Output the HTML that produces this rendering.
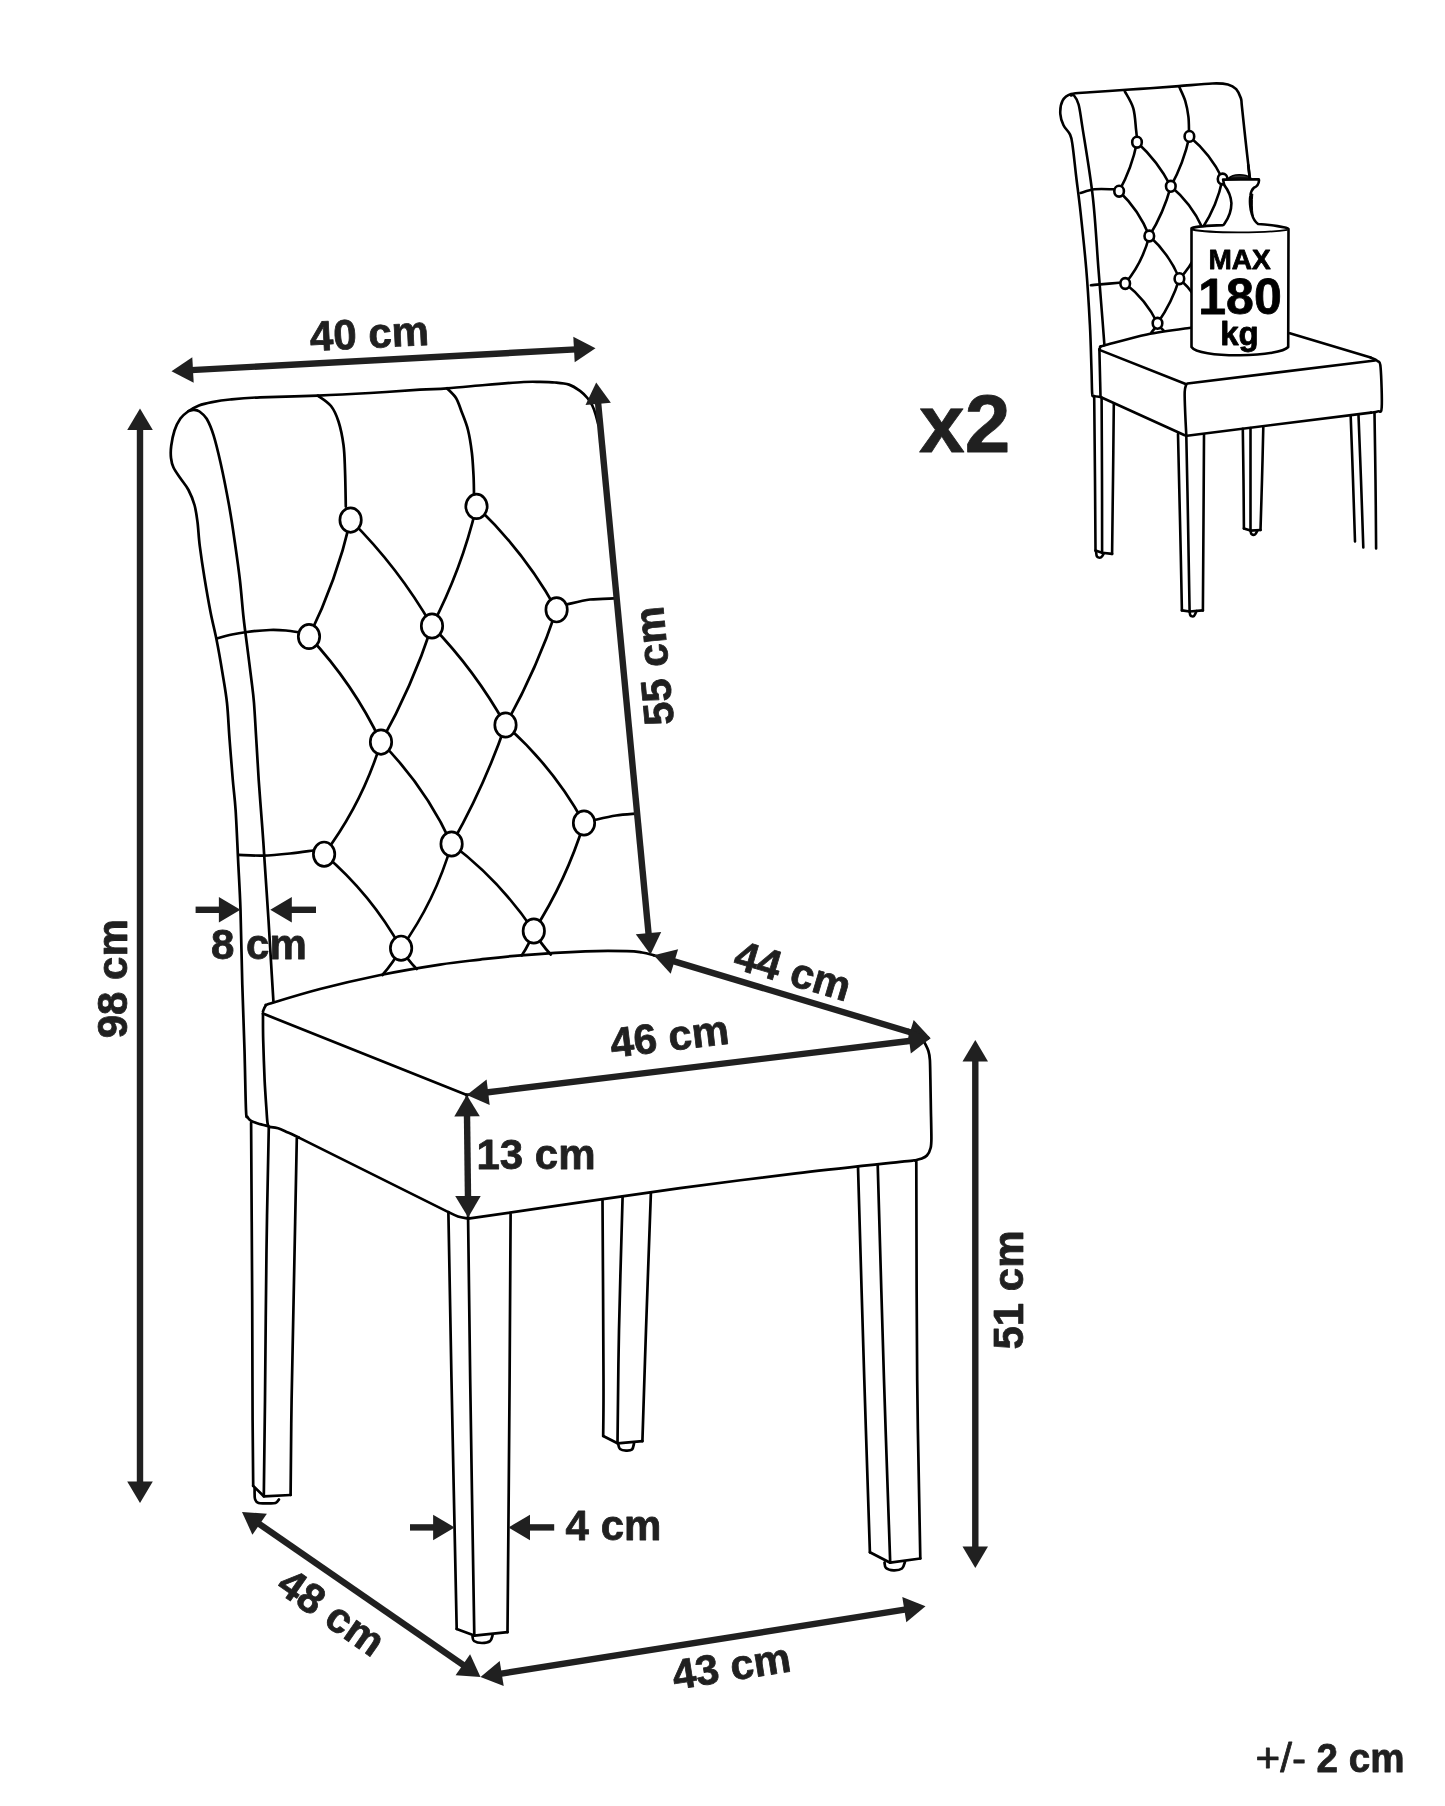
<!DOCTYPE html>
<html><head><meta charset="utf-8"><style>
html,body{margin:0;padding:0;background:#fff;}
svg{display:block;filter:grayscale(1);}
text{font-family:"Liberation Sans",sans-serif;}
</style></head><body>
<svg width="1445" height="1806" viewBox="0 0 1445 1806">
<rect width="1445" height="1806" fill="#fff"/>
<path d="M598.5,425 C598,423.2 596.5,417.2 595.5,414 C594.5,410.8 593.6,408.2 592.3,405.5 C590.9,402.8 589.4,400.4 587.4,398 C585.4,395.6 583.1,393 580,390.8 C576.9,388.6 573.2,386 569,384.6 C564.8,383.2 559.8,382.9 555,382.5 C550.2,382.1 545.2,382 540,381.9 C534.8,381.8 533,381.5 523.8,382 C514.6,382.5 497.8,383.9 485,385 C472.2,386.1 457.8,387.5 447,388.3 C436.2,389.1 432.8,388.9 420,389.7 C407.2,390.5 387,392 370,393 C353,394 336.1,394.9 317.8,395.6 C299.5,396.3 274.6,396.7 260,397.3 C245.4,397.9 238,398.7 230,399.5 C222,400.3 217.4,401.1 212.2,402.1 C207,403.1 203,403.9 199,405.5 C195,407.1 191.1,409.3 188,411.5 C184.9,413.7 182.7,415.3 180.4,418.5 C178.2,421.7 176,425.9 174.5,430.5 C173,435.1 171.8,441.4 171.2,446 C170.6,450.6 170.6,454.4 171,458 C171.4,461.6 171.9,464.1 173.5,467.5 C175.1,470.9 177.9,474.6 180.4,478.3 C182.9,482.1 186.2,485.6 188.5,490 C190.8,494.4 193,499.7 194.5,505 C196,510.3 196.6,515.1 197.5,522 C198.4,528.9 198.6,536.8 199.8,546.1 C201,555.4 202.7,567 204.5,578 C206.3,589 208.5,601.7 210.5,612 C212.5,622.3 214.6,630 216.6,640 C218.6,650 220.6,661.5 222.3,672 C224,682.5 225.8,691.7 227,703 C228.2,714.3 228.6,727.2 229.6,740 C230.6,752.8 231.8,768.3 232.8,780 C233.8,791.7 234.7,796.7 235.6,810 C236.5,823.3 237.3,843.3 238.1,860 C238.9,876.7 239.8,889.2 240.5,910 C241.2,930.8 241.6,961.3 242.3,984.6 C243,1007.9 243.9,1029.1 244.5,1050 C245.1,1070.9 245.5,1098.8 246,1110 C246.5,1121.2 246.7,1115.2 247.5,1117 C248.3,1118.8 249.3,1119.7 251.1,1120.8 C252.8,1121.9 255.2,1122.6 258,1123.5 C260.8,1124.4 266.1,1125.6 267.7,1126" fill="none" stroke="#000" stroke-width="2.7" stroke-linecap="round" stroke-linejoin="round"/>
<path d="M188.5,411 C189.4,410.8 192.2,409.7 194,409.8 C195.8,409.9 197.4,410 199.5,411.5 C201.6,413 204.3,414.8 206.7,418.8 C209,422.8 211.3,428 213.6,435.4 C215.9,442.8 218,451.5 220.6,463 C223.2,474.5 226.6,491.9 228.9,504.6 C231.2,517.3 232.6,526.6 234.4,539.2 C236.2,551.8 238.4,566.9 239.9,580 C241.4,593.1 242.4,607.2 243.6,618 C244.8,628.8 245.7,634.8 247,645 C248.3,655.2 250.1,669.3 251.3,679 C252.5,688.7 253.2,692.8 254,703 C254.8,713.2 255.5,727.2 256.3,740 C257.1,752.8 257.7,765.4 258.7,780 C259.7,794.6 261.3,814.3 262.3,827.6 C263.3,840.9 263.5,844.6 264.5,860 C265.5,875.4 267.4,902.5 268.5,920 C269.6,937.5 270.4,951.5 271.2,965 C272,978.5 273,995.2 273.4,1001.2" fill="none" stroke="#000" stroke-width="2.7" stroke-linecap="round" stroke-linejoin="round"/>
<path d="M317.8,395.6 C320,397.3 327.6,401.7 331,406 C334.4,410.3 336.4,415 338.5,421.5 C340.6,428 342.4,436.9 343.5,445 C344.6,453.1 344.6,459.7 345,470 C345.4,480.3 345.7,500.5 345.8,506.6" fill="none" stroke="#000" stroke-width="2.7" stroke-linecap="round" stroke-linejoin="round"/>
<path d="M447,388.3 C448.5,389.9 453.6,394.1 456,398 C458.4,401.9 459.5,406.2 461.5,411.5 C463.5,416.8 466.3,423.1 468,430 C469.7,436.9 471,445.5 471.9,453 C472.8,460.5 473.1,468.2 473.5,475 C473.9,481.8 473.9,490.8 474,494" fill="none" stroke="#000" stroke-width="2.7" stroke-linecap="round" stroke-linejoin="round"/>
<path d="M350.6,520.1 Q336.4,580.7 309,636.5" fill="none" stroke="#000" stroke-width="2.7" stroke-linecap="round"/>
<path d="M350.6,520.1 Q398.4,567.6 432,626" fill="none" stroke="#000" stroke-width="2.7" stroke-linecap="round"/>
<path d="M476.5,506.4 Q461.7,569 432,626" fill="none" stroke="#000" stroke-width="2.7" stroke-linecap="round"/>
<path d="M476.5,506.4 Q524.5,552 556.6,609.8" fill="none" stroke="#000" stroke-width="2.7" stroke-linecap="round"/>
<path d="M309,636.5 Q353.3,683.7 381,742.1" fill="none" stroke="#000" stroke-width="2.7" stroke-linecap="round"/>
<path d="M432,626 Q412,686.5 381,742.1" fill="none" stroke="#000" stroke-width="2.7" stroke-linecap="round"/>
<path d="M432,626 Q475.2,670.7 505.5,725" fill="none" stroke="#000" stroke-width="2.7" stroke-linecap="round"/>
<path d="M556.6,609.8 Q536.5,669.8 505.5,725" fill="none" stroke="#000" stroke-width="2.7" stroke-linecap="round"/>
<path d="M381,742.1 Q362.4,803.1 324.1,854.2" fill="none" stroke="#000" stroke-width="2.7" stroke-linecap="round"/>
<path d="M381,742.1 Q425.3,786.8 451.6,844" fill="none" stroke="#000" stroke-width="2.7" stroke-linecap="round"/>
<path d="M505.5,725 Q484,787 451.6,844" fill="none" stroke="#000" stroke-width="2.7" stroke-linecap="round"/>
<path d="M505.5,725 Q553.3,767.1 584,823" fill="none" stroke="#000" stroke-width="2.7" stroke-linecap="round"/>
<path d="M324.1,854.2 Q371.1,894.2 401.1,948.2" fill="none" stroke="#000" stroke-width="2.7" stroke-linecap="round"/>
<path d="M451.6,844 Q435.3,900.5 401.1,948.2" fill="none" stroke="#000" stroke-width="2.7" stroke-linecap="round"/>
<path d="M451.6,844 Q500,880.6 533.8,931" fill="none" stroke="#000" stroke-width="2.7" stroke-linecap="round"/>
<path d="M584,823 Q566.2,880.4 533.8,931" fill="none" stroke="#000" stroke-width="2.7" stroke-linecap="round"/>
<path d="M401.1,948.2 Q393.4,962.7 382.4,975" fill="none" stroke="#000" stroke-width="2.7" stroke-linecap="round"/>
<path d="M401.1,948.2 Q407.3,959.8 416.7,969" fill="none" stroke="#000" stroke-width="2.7" stroke-linecap="round"/>
<path d="M533.8,931 Q529.5,944.1 521.7,955.5" fill="none" stroke="#000" stroke-width="2.7" stroke-linecap="round"/>
<path d="M533.8,931 Q540.7,943.9 550.8,954.5" fill="none" stroke="#000" stroke-width="2.7" stroke-linecap="round"/>
<path d="M217,638.5 C219.5,637.8 227,635.6 232,634.5 C237,633.4 240.7,632.8 247,632 C253.3,631.2 263.5,630.2 270,630 C276.5,629.8 281,630.1 286,630.5 C291,630.9 297.7,632.2 300,632.5" fill="none" stroke="#000" stroke-width="2.7" stroke-linecap="round" stroke-linejoin="round"/>
<path d="M238.4,854.8 C242.4,854.9 253.7,855.8 262.3,855.6 C270.9,855.4 281.5,854.4 290,853.5 C298.5,852.6 309.2,851 313.1,850.5" fill="none" stroke="#000" stroke-width="2.7" stroke-linecap="round" stroke-linejoin="round"/>
<path d="M566,604.6 C570,603.8 582,600.5 590,599.5 C598,598.5 610.1,598.6 614.1,598.4" fill="none" stroke="#000" stroke-width="2.7" stroke-linecap="round" stroke-linejoin="round"/>
<path d="M594.5,820 C598.1,819.2 609.1,816.6 616,815.5 C622.9,814.4 632.6,813.9 635.9,813.6" fill="none" stroke="#000" stroke-width="2.7" stroke-linecap="round" stroke-linejoin="round"/>
<ellipse cx="350.6" cy="520.1" rx="10.7" ry="12.2" fill="#fff" stroke="#000" stroke-width="2.7"/>
<ellipse cx="309" cy="636.5" rx="10.7" ry="12.2" fill="#fff" stroke="#000" stroke-width="2.7"/>
<ellipse cx="432" cy="626" rx="10.7" ry="12.2" fill="#fff" stroke="#000" stroke-width="2.7"/>
<ellipse cx="476.5" cy="506.4" rx="10.7" ry="12.2" fill="#fff" stroke="#000" stroke-width="2.7"/>
<ellipse cx="556.6" cy="609.8" rx="10.7" ry="12.2" fill="#fff" stroke="#000" stroke-width="2.7"/>
<ellipse cx="381" cy="742.1" rx="10.7" ry="12.2" fill="#fff" stroke="#000" stroke-width="2.7"/>
<ellipse cx="505.5" cy="725" rx="10.7" ry="12.2" fill="#fff" stroke="#000" stroke-width="2.7"/>
<ellipse cx="324.1" cy="854.2" rx="10.7" ry="12.2" fill="#fff" stroke="#000" stroke-width="2.7"/>
<ellipse cx="451.6" cy="844" rx="10.7" ry="12.2" fill="#fff" stroke="#000" stroke-width="2.7"/>
<ellipse cx="584" cy="823" rx="10.7" ry="12.2" fill="#fff" stroke="#000" stroke-width="2.7"/>
<ellipse cx="533.8" cy="931" rx="10.7" ry="12.2" fill="#fff" stroke="#000" stroke-width="2.7"/>
<ellipse cx="401.1" cy="948.2" rx="10.7" ry="12.2" fill="#fff" stroke="#000" stroke-width="2.7"/>
<path d="M263,1011.5 C263.4,1010.6 264.1,1007.4 265.5,1006 C266.9,1004.6 262.2,1006 271.3,1003.2 C280.4,1000.4 302,993.7 320,989 C338,984.3 359.3,979.3 379.3,975.2 C399.3,971.1 423.2,967.2 440,964.6 C456.8,962 466.5,961.2 480,959.6 C493.5,958 503.4,956.7 521,955.3 C538.5,953.9 567.7,952 585.3,951.3 C602.9,950.6 617.3,950.9 626.8,951.1 C636.2,951.3 637.5,951.8 642,952.5 C646.5,953.2 651.8,954.8 653.8,955.3" fill="none" stroke="#000" stroke-width="2.7" stroke-linecap="round" stroke-linejoin="round"/>
<path d="M653.8,955.3 L928,1037.6" fill="none" stroke="#000" stroke-width="2.7" stroke-linecap="round" stroke-linejoin="round"/>
<path d="M263,1013.6 L466.8,1094.9" fill="none" stroke="#000" stroke-width="2.7" stroke-linecap="round" stroke-linejoin="round"/>
<path d="M466.8,1094.9 L928,1038.6" fill="none" stroke="#000" stroke-width="2.7" stroke-linecap="round" stroke-linejoin="round"/>
<path d="M263,1013.6 C263,1018 262.9,1028.9 263.2,1040 C263.5,1051.1 264.1,1068.3 264.6,1080 C265.2,1091.7 266,1102.7 266.5,1110 C267,1117.3 267.1,1121.2 267.7,1124 C268.2,1126.8 269.4,1126.5 269.8,1127" fill="none" stroke="#000" stroke-width="2.7" stroke-linecap="round" stroke-linejoin="round"/>
<path d="M269.8,1127 C271.2,1127.2 275.1,1127.4 278.1,1128.3 C281.1,1129.2 284.5,1131 288,1132.5 C291.5,1134 297.1,1136.8 298.9,1137.6" fill="none" stroke="#000" stroke-width="2.7" stroke-linecap="round" stroke-linejoin="round"/>
<path d="M298.9,1137.6 L448.4,1212.1" fill="none" stroke="#000" stroke-width="2.7" stroke-linecap="round" stroke-linejoin="round"/>
<path d="M448.4,1212.1 C450,1212.8 454.7,1215.4 458,1216.5 C461.3,1217.6 466.4,1218.2 468.1,1218.6" fill="none" stroke="#000" stroke-width="2.7" stroke-linecap="round" stroke-linejoin="round"/>
<path d="M466.8,1094.9 L468.1,1218.6" fill="none" stroke="#000" stroke-width="2.7" stroke-linecap="round" stroke-linejoin="round"/>
<path d="M468.1,1218.6 C486.8,1215.9 544.7,1207.5 580,1202.4 C615.3,1197.3 644,1193.1 680,1188.2 C716,1183.3 759.3,1177.7 796,1173.3 C832.7,1168.9 880.2,1164.1 900,1161.9 C919.8,1159.8 912.5,1160.7 915,1160.4" fill="none" stroke="#000" stroke-width="2.7" stroke-linecap="round" stroke-linejoin="round"/>
<path d="M924.5,1042.5 C925.1,1043.9 927.5,1048.1 928.4,1051 C929.3,1053.9 929.6,1055.2 929.9,1060 C930.2,1064.8 930.2,1071.7 930.4,1080 C930.6,1088.3 930.7,1100.3 930.9,1110 C931.1,1119.7 931.4,1131.7 931.4,1138 C931.4,1144.3 931.4,1145.1 930.6,1148 C929.9,1150.9 928.5,1153.7 926.9,1155.5 C925.3,1157.3 922.9,1158 920.9,1158.8 C918.9,1159.6 916,1160.1 915,1160.4" fill="none" stroke="#000" stroke-width="2.7" stroke-linecap="round" stroke-linejoin="round"/>
<path d="M251.1,1122.8 C251.3,1152.3 251.9,1250.5 252.2,1300 C252.4,1349.5 252.4,1389 252.6,1420 C252.8,1451 253.1,1474.9 253.2,1485.9" fill="none" stroke="#000" stroke-width="2.7" stroke-linecap="round" stroke-linejoin="round"/>
<path d="M268.8,1127 C268.4,1147.5 267.1,1204.5 266.5,1250 C265.9,1295.5 265.4,1359 265,1400 C264.6,1441 264,1480.2 263.8,1496.3" fill="none" stroke="#000" stroke-width="2.7" stroke-linecap="round" stroke-linejoin="round"/>
<path d="M296.8,1138.4 C296.3,1162 294.9,1236.4 294,1280 C293.1,1323.6 292.2,1364.2 291.6,1400 C291,1435.8 290.8,1479.2 290.6,1495" fill="none" stroke="#000" stroke-width="2.7" stroke-linecap="round" stroke-linejoin="round"/>
<path d="M253.2,1485.9 L263.8,1496.3 L290.6,1495" fill="none" stroke="#000" stroke-width="2.7" stroke-linecap="round" stroke-linejoin="round"/>
<path d="M254.6,1488 C254.7,1489.8 254.3,1496.5 255,1499 C255.7,1501.5 256.5,1502.3 258.5,1503 C260.5,1503.7 264.2,1503.3 267,1503.3 C269.8,1503.3 273.5,1503.6 275.5,1503 C277.5,1502.4 278.3,1500.1 278.9,1499.5" fill="none" stroke="#000" stroke-width="2.7" stroke-linecap="round" stroke-linejoin="round"/>
<path d="M448.4,1213.1 C448.9,1240.9 450.1,1310.7 451.5,1380 C452.9,1449.3 455.8,1587.5 456.7,1629" fill="none" stroke="#000" stroke-width="2.7" stroke-linecap="round" stroke-linejoin="round"/>
<path d="M468.1,1219.4 C468.5,1246.2 469.2,1310.6 470.2,1380 C471.2,1449.4 473.6,1593 474.3,1635.6" fill="none" stroke="#000" stroke-width="2.7" stroke-linecap="round" stroke-linejoin="round"/>
<path d="M510.6,1214.2 C510.4,1241.8 510.1,1310.3 509.6,1380 C509.1,1449.7 507.9,1590.2 507.5,1632.2" fill="none" stroke="#000" stroke-width="2.7" stroke-linecap="round" stroke-linejoin="round"/>
<path d="M456.7,1629 L474.3,1635.6 L507.5,1632.2" fill="none" stroke="#000" stroke-width="2.7" stroke-linecap="round" stroke-linejoin="round"/>
<path d="M472.5,1636.5 C472.8,1637.2 472.4,1639.9 474,1641 C475.6,1642.1 479.3,1643 482,1643 C484.7,1643 488.2,1642.5 490,1641.2 C491.8,1639.9 492.2,1636.3 492.6,1635.3" fill="none" stroke="#000" stroke-width="2.7" stroke-linecap="round" stroke-linejoin="round"/>
<path d="M602.5,1199.5 C602.7,1229.6 603.4,1340.6 603.5,1380 C603.6,1419.4 603.2,1426.7 603.2,1436" fill="none" stroke="#000" stroke-width="2.7" stroke-linecap="round" stroke-linejoin="round"/>
<path d="M622.6,1196.6 C622,1218.8 619.9,1288.9 619,1330 C618.1,1371.1 617.8,1424.4 617.5,1443.3" fill="none" stroke="#000" stroke-width="2.7" stroke-linecap="round" stroke-linejoin="round"/>
<path d="M650.9,1192.6 C650.1,1215.5 647.4,1288.6 646,1330 C644.6,1371.4 643,1422.7 642.4,1441.2" fill="none" stroke="#000" stroke-width="2.7" stroke-linecap="round" stroke-linejoin="round"/>
<path d="M603.2,1436 L617.5,1443.3 L642.4,1441.2" fill="none" stroke="#000" stroke-width="2.7" stroke-linecap="round" stroke-linejoin="round"/>
<path d="M618.3,1444.5 C618.6,1445.2 618.7,1448 620,1449 C621.3,1450 624,1450.5 626,1450.6 C628,1450.7 630.7,1450.7 632,1449.5 C633.3,1448.3 633.7,1444.5 634,1443.5" fill="none" stroke="#000" stroke-width="2.7" stroke-linecap="round" stroke-linejoin="round"/>
<path d="M858,1166.6 C859,1202.2 862.3,1315.7 864.3,1380 C866.3,1444.3 869,1523.6 869.9,1552.3" fill="none" stroke="#000" stroke-width="2.7" stroke-linecap="round" stroke-linejoin="round"/>
<path d="M877.7,1164.4 C878.8,1200.3 881.9,1313.6 884,1380 C886.1,1446.4 889.2,1532.2 890.2,1562.7" fill="none" stroke="#000" stroke-width="2.7" stroke-linecap="round" stroke-linejoin="round"/>
<path d="M916.3,1161.5 C916.4,1197.9 916.5,1313.8 917.2,1380 C917.9,1446.2 919.8,1528.8 920.3,1558.5" fill="none" stroke="#000" stroke-width="2.7" stroke-linecap="round" stroke-linejoin="round"/>
<path d="M869.9,1552.3 L890.2,1562.7 L920.3,1558.5" fill="none" stroke="#000" stroke-width="2.7" stroke-linecap="round" stroke-linejoin="round"/>
<path d="M884.5,1562.5 C884.8,1563.4 884.5,1566.7 886,1568 C887.5,1569.3 890.8,1570.2 893.5,1570.3 C896.2,1570.4 900.1,1569.9 902,1568.5 C903.9,1567.1 904.5,1562.8 905,1561.7" fill="none" stroke="#000" stroke-width="2.7" stroke-linecap="round" stroke-linejoin="round"/>
<path d="M191,370.1 L576,349.4" stroke="#231f20" stroke-width="6.4" fill="none"/><path d="M171.5,371.2 L192.3,357.3 L193.7,382.8 Z" fill="#231f20"/><path d="M595.5,348.3 L574.7,362.2 L573.3,336.7 Z" fill="#231f20"/>
<path d="M598,401.9 L648.7,935.1" stroke="#231f20" stroke-width="6.4" fill="none"/><path d="M596.2,382.5 L610.9,402.7 L585.5,405.1 Z" fill="#231f20"/><path d="M650.5,954.5 L635.8,934.3 L661.2,931.9 Z" fill="#231f20"/>
<path d="M140,427.9 L140,1483.5" stroke="#231f20" stroke-width="6.4" fill="none"/><path d="M140,408.4 L152.8,429.9 L127.2,429.9 Z" fill="#231f20"/><path d="M140,1503 L127.2,1481.5 L152.8,1481.5 Z" fill="#231f20"/>
<path d="M195.6,909.8 L220.9,909.8" stroke="#231f20" stroke-width="6.4" fill="none"/><path d="M240.4,909.8 L218.9,922.5 L218.9,897 Z" fill="#231f20"/>
<path d="M316,909.8 L289.8,909.8" stroke="#231f20" stroke-width="6.4" fill="none"/><path d="M270.3,909.8 L291.8,897 L291.8,922.5 Z" fill="#231f20"/>
<path d="M672.5,960.9 L911.9,1032.7" stroke="#231f20" stroke-width="6.4" fill="none"/><path d="M653.8,955.3 L678.1,949.3 L670.7,973.7 Z" fill="#231f20"/><path d="M930.6,1038.3 L906.3,1044.3 L913.7,1019.9 Z" fill="#231f20"/>
<path d="M486.2,1092.5 L911.2,1040.7" stroke="#231f20" stroke-width="6.4" fill="none"/><path d="M466.8,1094.9 L486.6,1079.6 L489.7,1105 Z" fill="#231f20"/><path d="M930.6,1038.3 L910.8,1053.6 L907.7,1028.2 Z" fill="#231f20"/>
<path d="M467,1114.4 L468,1198" stroke="#231f20" stroke-width="6.4" fill="none"/><path d="M466.8,1094.9 L479.8,1116.3 L454.3,1116.5 Z" fill="#231f20"/><path d="M468.2,1217.5 L455.2,1196.1 L480.7,1195.9 Z" fill="#231f20"/>
<path d="M975.3,1059.5 L975.3,1548.4" stroke="#231f20" stroke-width="6.4" fill="none"/><path d="M975.3,1040 L988,1061.5 L962.5,1061.5 Z" fill="#231f20"/><path d="M975.3,1567.9 L962.5,1546.4 L988,1546.4 Z" fill="#231f20"/>
<path d="M410,1527.4 L435.1,1527.4" stroke="#231f20" stroke-width="6.4" fill="none"/><path d="M454.6,1527.4 L433.1,1540.2 L433.1,1514.7 Z" fill="#231f20"/>
<path d="M554.2,1527.4 L528,1527.4" stroke="#231f20" stroke-width="6.4" fill="none"/><path d="M508.5,1527.4 L530,1514.7 L530,1540.2 Z" fill="#231f20"/>
<path d="M258,1523.1 L464.5,1665.8" stroke="#231f20" stroke-width="6.4" fill="none"/><path d="M242,1512 L266.9,1513.7 L252.4,1534.7 Z" fill="#231f20"/><path d="M480.5,1676.9 L455.6,1675.2 L470.1,1654.2 Z" fill="#231f20"/>
<path d="M499.8,1673.8 L906.2,1609.4" stroke="#231f20" stroke-width="6.4" fill="none"/><path d="M480.5,1676.9 L499.7,1660.9 L503.7,1686.1 Z" fill="#231f20"/><path d="M925.5,1606.3 L906.3,1622.3 L902.3,1597.1 Z" fill="#231f20"/>
<text transform="translate(310.6,351) rotate(-2.9)" font-size="42" font-weight="bold" fill="#231f20" text-anchor="start" stroke="#231f20" stroke-width="0.8" stroke-linejoin="round">40 cm</text>
<text transform="translate(674,724) rotate(-95.3)" font-size="42" font-weight="bold" fill="#231f20" text-anchor="start" stroke="#231f20" stroke-width="0.8" stroke-linejoin="round">55 cm</text>
<text transform="translate(127.3,1038.3) rotate(-90)" font-size="42" font-weight="bold" fill="#231f20" text-anchor="start" stroke="#231f20" stroke-width="0.8" stroke-linejoin="round">98 cm</text>
<text transform="translate(211,958.6)" font-size="42" font-weight="bold" fill="#231f20" text-anchor="start" stroke="#231f20" stroke-width="0.8" stroke-linejoin="round">8 cm</text>
<text transform="translate(731.7,967.7) rotate(16.6)" font-size="42" font-weight="bold" fill="#231f20" text-anchor="start" stroke="#231f20" stroke-width="0.8" stroke-linejoin="round">44 cm</text>
<text transform="translate(612.1,1057.7) rotate(-6.8)" font-size="42" font-weight="bold" fill="#231f20" text-anchor="start" stroke="#231f20" stroke-width="0.8" stroke-linejoin="round">46 cm</text>
<text transform="translate(476.4,1169)" font-size="42" font-weight="bold" fill="#231f20" text-anchor="start" stroke="#231f20" stroke-width="0.8" stroke-linejoin="round">13 cm</text>
<text transform="translate(1022.8,1349.6) rotate(-90)" font-size="42" font-weight="bold" fill="#231f20" text-anchor="start" stroke="#231f20" stroke-width="0.8" stroke-linejoin="round">51 cm</text>
<text transform="translate(565.6,1539.6)" font-size="42" font-weight="bold" fill="#231f20" text-anchor="start" stroke="#231f20" stroke-width="0.8" stroke-linejoin="round">4 cm</text>
<text transform="translate(274.4,1590.1) rotate(34.8)" font-size="42" font-weight="bold" fill="#231f20" text-anchor="start" stroke="#231f20" stroke-width="0.8" stroke-linejoin="round">48 cm</text>
<text transform="translate(674.8,1689.7) rotate(-9)" font-size="42" font-weight="bold" fill="#231f20" text-anchor="start" stroke="#231f20" stroke-width="0.8" stroke-linejoin="round">43 cm</text>
<text transform="translate(919.1,451.7)" font-size="82" font-weight="bold" fill="#231f20" text-anchor="start" stroke="#231f20" stroke-width="0.8" stroke-linejoin="round">x2</text>
<text transform="translate(1255.5,1772.4)" font-size="40" font-weight="normal" fill="#231f20" text-anchor="start" textLength="50.5" lengthAdjust="spacingAndGlyphs" stroke="#231f20" stroke-width="0.8" stroke-linejoin="round">+/-</text>
<text transform="translate(1316.5,1772.4)" font-size="40" font-weight="bold" fill="#231f20" text-anchor="start" textLength="88" lengthAdjust="spacingAndGlyphs" stroke="#231f20" stroke-width="0.8" stroke-linejoin="round">2 cm</text>
<path d="M1249.7,176.9 C1249,170.8 1246.8,151.8 1245.5,140 C1244.2,128.2 1242.7,113.3 1241.9,106.3 C1241.1,99.3 1241.8,100.8 1240.8,98 C1239.8,95.2 1238.3,91.5 1236.2,89.2 C1234.1,87 1231.9,85.5 1227.9,84.5 C1223.9,83.5 1220.4,83.2 1212.3,83.5 C1204.2,83.8 1189.5,85.3 1179.1,86.1 C1168.7,86.9 1158.8,87.6 1150,88.2 C1141.2,88.8 1136.4,89.1 1126.4,89.8 C1116.4,90.5 1099.2,91.6 1090,92.3 C1080.8,93 1075.7,92.7 1071.1,94.1 C1066.5,95.5 1064.4,97.4 1062.6,100.7 C1060.8,104 1060.1,109.8 1060.3,113.9 C1060.5,118 1061.9,121.8 1063.5,125.2 C1065.1,128.7 1068.6,131.3 1070.1,134.6 C1071.6,137.9 1071.5,138.3 1072.5,145 C1073.5,151.7 1074.7,163.8 1076,175 C1077.3,186.2 1078.8,196.3 1080.5,211.9 C1082.2,227.5 1084.6,249.6 1086.2,268.4 C1087.8,287.2 1089,308 1089.9,324.9 C1090.8,341.8 1091.1,358.6 1091.5,370 C1091.9,381.4 1091.8,389.3 1092.2,393.6 C1092.6,397.9 1092.5,395.3 1093.9,395.9 C1095.3,396.5 1099.4,396.8 1100.5,397" fill="none" stroke="#000" stroke-width="2.6" stroke-linecap="round" stroke-linejoin="round"/>
<path d="M1071,95.5 C1071.5,95.5 1072.7,94 1074,95.5 C1075.3,97 1077.2,99.2 1078.6,104.5 C1080,109.8 1080,111.7 1082.4,127.1 C1084.8,142.5 1090.1,173.2 1092.8,196.8 C1095.5,220.4 1096.8,247.9 1098.4,268.4 C1100,288.9 1101.5,307.2 1102.5,320 C1103.5,332.8 1104.1,340.8 1104.4,344.9" fill="none" stroke="#000" stroke-width="2.6" stroke-linecap="round" stroke-linejoin="round"/>
<path d="M1124.8,91.3 C1126.2,94.1 1131.4,101.8 1133.3,108.3 C1135.2,114.8 1135.5,125.2 1136.1,130 C1136.7,134.8 1136.7,135.8 1136.8,137" fill="none" stroke="#000" stroke-width="2.6" stroke-linecap="round" stroke-linejoin="round"/>
<path d="M1179.1,86.6 C1180.1,89 1183.8,96.1 1185.3,101.1 C1186.8,106.1 1187.8,111.7 1188.4,116.7 C1189,121.7 1188.9,128.6 1189,131" fill="none" stroke="#000" stroke-width="2.6" stroke-linecap="round" stroke-linejoin="round"/>
<path d="M1137,142.2 Q1131.8,168.1 1119.1,191.2" fill="none" stroke="#000" stroke-width="2.6" stroke-linecap="round"/>
<path d="M1137,142.2 Q1157.9,161.2 1170.8,186.3" fill="none" stroke="#000" stroke-width="2.6" stroke-linecap="round"/>
<path d="M1189.4,136.4 Q1183.8,162.7 1170.8,186.3" fill="none" stroke="#000" stroke-width="2.6" stroke-linecap="round"/>
<path d="M1189.4,136.4 Q1210.7,154 1222.6,179" fill="none" stroke="#000" stroke-width="2.6" stroke-linecap="round"/>
<path d="M1119.1,191.2 Q1139.2,210.2 1149.3,236" fill="none" stroke="#000" stroke-width="2.6" stroke-linecap="round"/>
<path d="M1170.8,186.3 Q1163.7,212.7 1149.3,236" fill="none" stroke="#000" stroke-width="2.6" stroke-linecap="round"/>
<path d="M1170.8,186.3 Q1191.4,203.5 1202.5,228" fill="none" stroke="#000" stroke-width="2.6" stroke-linecap="round"/>
<path d="M1222.6,179 Q1217.2,205.4 1202.5,228" fill="none" stroke="#000" stroke-width="2.6" stroke-linecap="round"/>
<path d="M1149.3,236 Q1142.6,262.5 1125.2,283.5" fill="none" stroke="#000" stroke-width="2.6" stroke-linecap="round"/>
<path d="M1149.3,236 Q1169.3,253.9 1179.4,278.7" fill="none" stroke="#000" stroke-width="2.6" stroke-linecap="round"/>
<path d="M1125.2,283.5 Q1146,299.6 1157.5,323.3" fill="none" stroke="#000" stroke-width="2.6" stroke-linecap="round"/>
<path d="M1179.4,278.7 Q1172,302.8 1157.5,323.3" fill="none" stroke="#000" stroke-width="2.6" stroke-linecap="round"/>
<path d="M1202.5,228 Q1200,257.5 1179.4,278.7" fill="none" stroke="#000" stroke-width="2.6" stroke-linecap="round"/>
<path d="M1179.4,278.7 Q1197.7,295 1206,318" fill="none" stroke="#000" stroke-width="2.6" stroke-linecap="round"/>
<path d="M1157.5,323.3 Q1155.3,328.5 1151.4,332.5" fill="none" stroke="#000" stroke-width="2.6" stroke-linecap="round"/>
<path d="M1157.5,323.3 Q1159.8,327.5 1163.6,330.5" fill="none" stroke="#000" stroke-width="2.6" stroke-linecap="round"/>
<path d="M1080.5,193 C1082.8,192.4 1089.1,189.9 1094.6,189.3 C1100.1,188.7 1110.3,189.3 1113.5,189.3" fill="none" stroke="#000" stroke-width="2.6" stroke-linecap="round" stroke-linejoin="round"/>
<path d="M1090.9,285.3 C1092.5,285.1 1095.6,284.8 1100.3,284.4 C1105,284 1116,283.1 1119.1,282.8" fill="none" stroke="#000" stroke-width="2.6" stroke-linecap="round" stroke-linejoin="round"/>
<ellipse cx="1137" cy="142.2" rx="4.8" ry="5.4" fill="#fff" stroke="#000" stroke-width="2.6"/>
<ellipse cx="1189.4" cy="136.4" rx="4.8" ry="5.4" fill="#fff" stroke="#000" stroke-width="2.6"/>
<ellipse cx="1119.1" cy="191.2" rx="4.8" ry="5.4" fill="#fff" stroke="#000" stroke-width="2.6"/>
<ellipse cx="1170.8" cy="186.3" rx="4.8" ry="5.4" fill="#fff" stroke="#000" stroke-width="2.6"/>
<ellipse cx="1222.6" cy="179" rx="4.8" ry="5.4" fill="#fff" stroke="#000" stroke-width="2.6"/>
<ellipse cx="1149.3" cy="236" rx="4.8" ry="5.4" fill="#fff" stroke="#000" stroke-width="2.6"/>
<ellipse cx="1125.2" cy="283.5" rx="4.8" ry="5.4" fill="#fff" stroke="#000" stroke-width="2.6"/>
<ellipse cx="1179.4" cy="278.7" rx="4.8" ry="5.4" fill="#fff" stroke="#000" stroke-width="2.6"/>
<ellipse cx="1157.5" cy="323.3" rx="4.8" ry="5.4" fill="#fff" stroke="#000" stroke-width="2.6"/>
<path d="M1099.4,348.8 C1099.7,348.4 1100.2,347.1 1101,346.5 C1101.8,345.9 1096.7,347.5 1104.4,345.5 C1112.1,343.5 1132.4,337.4 1147,334.4 C1161.6,331.4 1184.5,328.6 1192,327.5" fill="none" stroke="#000" stroke-width="2.6" stroke-linecap="round" stroke-linejoin="round"/>
<path d="M1289.8,333.3 L1370.7,357.6" fill="none" stroke="#000" stroke-width="2.6" stroke-linecap="round" stroke-linejoin="round"/>
<path d="M1370.7,357.6 C1371.8,358.2 1375.7,359.2 1377.3,360.9 C1378.9,362.6 1379.9,359.8 1380.6,367.6 C1381.3,375.4 1382.2,400.2 1381.7,407.5 C1381.2,414.8 1379.7,410.4 1377.9,411.3 C1376.1,412.2 1372.2,412.4 1371,412.6" fill="none" stroke="#000" stroke-width="2.6" stroke-linecap="round" stroke-linejoin="round"/>
<path d="M1099.4,349.9 L1186.3,384.2" fill="none" stroke="#000" stroke-width="2.6" stroke-linecap="round" stroke-linejoin="round"/>
<path d="M1187.5,383.5 L1375,360.5" fill="none" stroke="#000" stroke-width="2.6" stroke-linecap="round" stroke-linejoin="round"/>
<path d="M1186.3,384.2 C1186,385.5 1184.9,386.9 1184.7,392 C1184.5,397.1 1185,407.8 1185.3,415 C1185.6,422.2 1186.1,431.8 1186.3,435.2" fill="none" stroke="#000" stroke-width="2.6" stroke-linecap="round" stroke-linejoin="round"/>
<path d="M1099.4,349.9 C1099.5,354.1 1099.8,367.2 1100,375 C1100.2,382.8 1100.4,392.8 1100.5,396.4" fill="none" stroke="#000" stroke-width="2.6" stroke-linecap="round" stroke-linejoin="round"/>
<path d="M1100.5,397 L1184.7,435.2 L1187,435.7 L1371,412.6" fill="none" stroke="#000" stroke-width="2.6" stroke-linecap="round" stroke-linejoin="round"/>
<path d="M1094.2,397 C1094.3,410.8 1094.8,454.4 1095,480 C1095.2,505.6 1095.4,538.8 1095.5,550.6" fill="none" stroke="#000" stroke-width="2.6" stroke-linecap="round" stroke-linejoin="round"/>
<path d="M1101.6,397.5 C1101.7,411.2 1101.9,454.1 1102,480 C1102.1,505.9 1102.1,540.7 1102.1,552.8" fill="none" stroke="#000" stroke-width="2.6" stroke-linecap="round" stroke-linejoin="round"/>
<path d="M1113.8,404.2 C1113.7,416.8 1113.3,455.1 1113,480 C1112.7,504.9 1112.2,541.6 1112.1,553.9" fill="none" stroke="#000" stroke-width="2.6" stroke-linecap="round" stroke-linejoin="round"/>
<path d="M1095.5,550.6 L1102.1,552.8 L1112.1,553.9" fill="none" stroke="#000" stroke-width="2.6" stroke-linecap="round" stroke-linejoin="round"/>
<path d="M1096,551 C1096.2,551.9 1096.2,555.4 1097,556.5 C1097.8,557.6 1099.8,558 1101,557.4 C1102.2,556.8 1103.5,553.7 1104,553" fill="none" stroke="#000" stroke-width="2.6" stroke-linecap="round" stroke-linejoin="round"/>
<path d="M1178,434.1 C1178.3,448.4 1179.3,490.6 1180,520 C1180.7,549.4 1181.6,595.3 1181.9,610.4" fill="none" stroke="#000" stroke-width="2.6" stroke-linecap="round" stroke-linejoin="round"/>
<path d="M1186.3,435.7 C1186.6,449.8 1187.5,490.7 1188,520 C1188.5,549.3 1189.3,596.2 1189.6,611.5" fill="none" stroke="#000" stroke-width="2.6" stroke-linecap="round" stroke-linejoin="round"/>
<path d="M1204,434.6 C1203.9,448.8 1203.7,490.7 1203.5,520 C1203.3,549.3 1203,595.3 1202.9,610.4" fill="none" stroke="#000" stroke-width="2.6" stroke-linecap="round" stroke-linejoin="round"/>
<path d="M1181.9,610.4 L1189.6,611.5 L1202.9,610.4" fill="none" stroke="#000" stroke-width="2.6" stroke-linecap="round" stroke-linejoin="round"/>
<path d="M1189.6,611.5 C1189.8,612.2 1189.8,614.8 1190.5,615.5 C1191.2,616.2 1193,616.8 1194,616 C1195,615.2 1196.1,611.8 1196.5,611" fill="none" stroke="#000" stroke-width="2.6" stroke-linecap="round" stroke-linejoin="round"/>
<path d="M1242.8,428.8 C1242.9,437.3 1243.3,463.4 1243.5,480 C1243.7,496.6 1243.8,520.3 1243.9,528.4" fill="none" stroke="#000" stroke-width="2.6" stroke-linecap="round" stroke-linejoin="round"/>
<path d="M1250.5,428 C1250.5,436.7 1250.5,462.9 1250.5,480 C1250.5,497.1 1250.5,522.2 1250.5,530.6" fill="none" stroke="#000" stroke-width="2.6" stroke-linecap="round" stroke-linejoin="round"/>
<path d="M1263.3,427 C1263.1,435.8 1262.5,462.8 1262,480 C1261.5,497.2 1260.8,521.7 1260.5,530" fill="none" stroke="#000" stroke-width="2.6" stroke-linecap="round" stroke-linejoin="round"/>
<path d="M1243.9,528.4 L1250.5,530.6 L1260.5,530" fill="none" stroke="#000" stroke-width="2.6" stroke-linecap="round" stroke-linejoin="round"/>
<path d="M1250.5,530.6 C1250.7,531.2 1250.8,533.4 1251.5,534 C1252.2,534.6 1254,535.1 1255,534.5 C1256,533.9 1257.1,531 1257.5,530.3" fill="none" stroke="#000" stroke-width="2.6" stroke-linecap="round" stroke-linejoin="round"/>
<path d="M1350.7,416.3 C1351.1,426.9 1352.3,459.1 1353,480 C1353.7,500.9 1354.7,531.2 1355,541.5" fill="none" stroke="#000" stroke-width="2.6" stroke-linecap="round" stroke-linejoin="round"/>
<path d="M1358.5,415.2 C1358.9,426 1360.2,457.9 1361,480 C1361.8,502.1 1362.9,536.2 1363.3,547.5" fill="none" stroke="#000" stroke-width="2.6" stroke-linecap="round" stroke-linejoin="round"/>
<path d="M1374.5,413 C1374.7,424.2 1375.2,457.4 1375.5,480 C1375.8,502.6 1376,537.1 1376.1,548.5" fill="none" stroke="#000" stroke-width="2.6" stroke-linecap="round" stroke-linejoin="round"/>
<path d="M1191.5,228.2 L1191.5,347 C1195,352.5 1215,355.5 1240,355.3 C1265,355 1284,351.5 1288.2,347 L1288.5,229 C1288,227.5 1270,224.5 1258.1,224 C1256,222.5 1253,218 1252,214.5 C1250,209 1249.5,200 1250.5,195.5 C1251,191 1252.5,189 1253.9,187.8 C1257,186.5 1258.8,184 1259,180.5 L1258.8,179.3 L1223.1,179.6 C1223.3,181 1223.8,184 1224.6,185.6 C1228,190 1231,197 1231.4,203.1 C1231.5,210 1228.5,218 1224.6,223.6 C1224,224.5 1223.5,225 1223.1,225.1 C1210,225.5 1196,226.5 1191.5,228.2 Z" fill="#fff" stroke="#000" stroke-width="2.6" stroke-linejoin="round"/>
<path d="M1192,229.5 C1210,233.3 1265,233.3 1287.5,229.8" fill="none" stroke="#000" stroke-width="1.8"/>
<path d="M1228.3,178.3 C1233,173.8 1245,173.6 1250.5,177.8 Z" fill="#333" stroke="#000" stroke-width="1.4"/>
<path d="M1250.5,195.5 C1249.3,203 1250,210 1253.2,216.5 C1252.2,209 1252,201 1252.8,194 Z" fill="#000" stroke="#000" stroke-width="1"/>
<path d="M1248.2,165 L1249.7,178" fill="none" stroke="#000" stroke-width="2.6" stroke-linecap="round" stroke-linejoin="round"/>
<text transform="translate(1239.5,269.4)" font-size="28" font-weight="bold" fill="#000" text-anchor="middle" stroke="#000" stroke-width="0.8" stroke-linejoin="round">MAX</text>
<text transform="translate(1240,313.8)" font-size="50" font-weight="bold" fill="#000" text-anchor="middle" stroke="#000" stroke-width="0.8" stroke-linejoin="round">180</text>
<text transform="translate(1239.5,344.5)" font-size="33" font-weight="bold" fill="#000" text-anchor="middle" stroke="#000" stroke-width="0.8" stroke-linejoin="round">kg</text>
</svg>
</body></html>
